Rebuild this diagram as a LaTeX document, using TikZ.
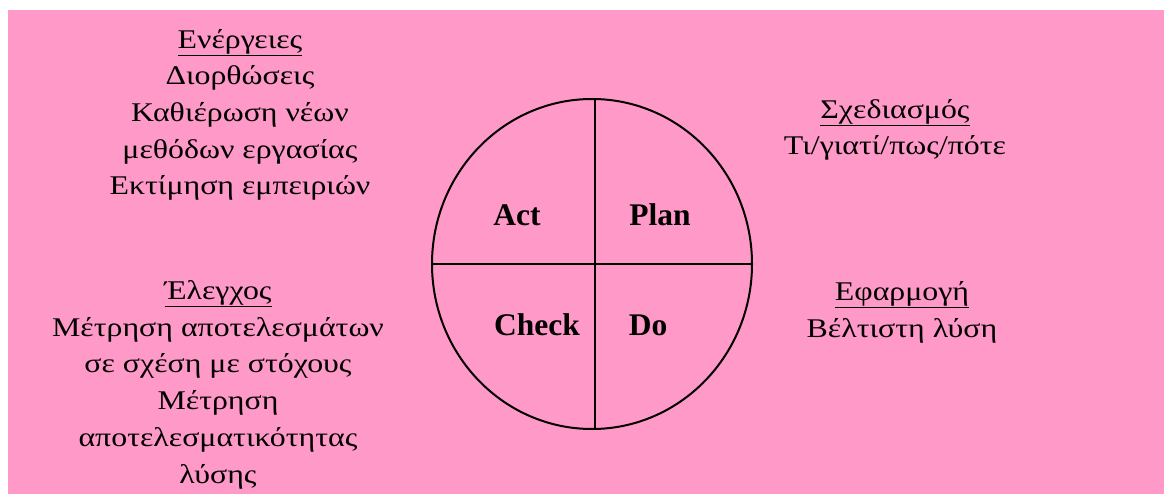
\documentclass[tikz,border=0pt]{standalone}
\usepackage{fontspec}
\setmainfont{Liberation Serif}
\newfontfamily\grk[FakeStretch=1.18]{Liberation Serif}
\definecolor{pinkbg}{HTML}{FF99C8}
\tikzset{
  txt/.style={anchor=base, align=center, inner sep=0pt, font=\grk\fontsize{27}{36.7}\selectfont},
  lbl/.style={anchor=base, inner sep=0pt, font=\fontsize{31.5}{36}\selectfont\bfseries},
  ring/.style={draw=black, line width=2pt}
}
\begin{document}
\begin{tikzpicture}[x=1pt,y=-1pt]
\useasboundingbox (0,0) rectangle (1164,494);
\fill[pinkbg] (8,10) rectangle (1164,494);
\draw[ring] (592,264) ellipse [x radius=160, y radius=165];
\coordinate (vt) at (595,99);
\coordinate (vb) at (595,429);
\coordinate (hl) at (432,264);
\coordinate (hr) at (752,264);
\draw[ring] (vt) -- (vb);
\draw[ring] (hl) -- (hr);
\node[lbl] (act) at (517,226) {Act};
\node[lbl] (plan) at (660,226) {Plan};
\node[lbl] (check) at (537,335) {Check};
\node[lbl] (do) at (648,335) {Do};
\node[txt] (energ) at (240,195) {\underline{Ενέργειες}\\Διορθώσεις\\Καθιέρωση νέων\\μεθόδων εργασίας\\Εκτίμηση εμπειριών};
\node[txt] (elen) at (218,483) {\underline{Έλεγχος}\\Μέτρηση αποτελεσμάτων\\σε σχέση με στόχους\\Μέτρηση\\αποτελεσματικότητας\\λύσης};
\node[txt] (sxed) at (895,155) {\underline{Σχεδιασμός}\\Τι/γιατί/πως/πότε};
\node[txt] (efar) at (902,337) {\underline{Εφαρμογή}\\Βέλτιστη λύση};
\end{tikzpicture}
\end{document}
